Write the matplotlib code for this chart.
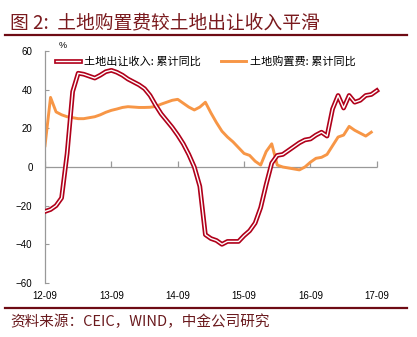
import numpy as np
import matplotlib.pyplot as plt
import matplotlib.patheffects as pe
from matplotlib.lines import Line2D

plt.rcParams['font.family'] = ['Noto Sans CJK SC', 'DejaVu Sans']

# monthly, 2012-09 .. 2017-09
tick_pos = [0, 12, 24, 36, 48, 60]
tick_labels = ['12-09', '13-09', '14-09', '15-09', '16-09', '17-09']

land_sale = [-23, -22, -20, -16, 7, 39, 48.5, 48, 47, 46, 47.5, 49.3, 50,
             49, 47.5, 45.5, 44, 42.5, 40.5, 37, 32, 27.5, 24, 20.5, 16.5,
             12, 6.5, 0, -10, -35, -37, -38, -40, -38.5, -38.5, -38.5,
             -35.5, -33, -29, -21, -9, 2, 6, 6.5, 8.5, 10.5, 12.5, 14,
             14.5, 16.5, 18, 16, 30, 37, 30.5, 37, 33.5, 34.5, 37, 37.5, 39.5]

land_purchase = [11, 36, 28.5, 27, 26, 25.5, 25, 25, 25.5, 26, 27, 28.3,
                 29.3, 30, 30.8, 31.2, 31, 30.8, 30.8, 30.9, 31.3, 32.5,
                 33.5, 34.5, 35, 33, 31, 29.5, 31, 33.5, 28, 23, 18.5, 15.5,
                 13, 10, 7, 6, 3, 1, 8, 12, 1, 0, -0.5, -1, -1.5, 0, 2.5,
                 4.5, 5, 6.5, 11, 15.5, 16.5, 21, 19, 17.5, 16, 18]

label_sale = '土地出让收入: 累计同比'
label_purchase = '土地购置费: 累计同比'

dark_red = '#6e0b14'

fig = plt.figure(figsize=(4.17, 3.37), dpi=100)
ax = fig.add_axes([45 / 417, 1 - 283 / 337, 61 * 5.53 / 417, 232 / 337])

x1 = np.arange(len(land_sale))
x2 = np.arange(len(land_purchase))

ax.plot(x1, land_sale, color='white', lw=1.0, label=label_sale,
        path_effects=[pe.Stroke(linewidth=3.4, foreground='#b0001a'), pe.Normal()],
        zorder=3)
ax.plot(x2, land_purchase, color='#f79646', lw=2.1, label=label_purchase, zorder=2)

# zero line with upward year ticks
ax.hlines(0, tick_pos[0], tick_pos[-1], color='#999999', lw=0.9, zorder=1)
ax.plot(tick_pos, [0] * len(tick_pos), ls='none', marker=2, ms=4,
        color='#999999', mew=0.9, zorder=1)

ax.set_xlim(0, 61)
ax.set_ylim(-60, 60)
ax.set_yticks(range(-60, 61, 20))
ax.set_xticks(tick_pos)
ax.set_xticklabels(tick_labels)

for s in ['top', 'right', 'bottom']:
    ax.spines[s].set_visible(False)
ax.spines['left'].set_color('#999999')
ax.spines['left'].set_linewidth(0.9)

ax.tick_params(axis='y', direction='in', length=3, color='#999999', pad=9,
               labelsize=7)
ax.tick_params(axis='x', length=0, pad=6, labelsize=7)
for t in ax.get_xticklabels() + ax.get_yticklabels():
    t.set_fontfamily('Liberation Sans')

ax.text(2.5, 60.5, '%', fontsize=6.5, ha='left', va='bottom',
        fontfamily='Liberation Sans')

ax.legend(loc='upper left', bbox_to_anchor=(50 / 417, 1 - 50 / 337),
          bbox_transform=fig.transFigure, ncol=2, frameon=False,
          fontsize=8, handlelength=2.2, columnspacing=1.8, borderpad=0,
          handletextpad=0.4)

# title and source
fig.text(10 / 417, 1 - 23 / 337, '图 2:  土地购置费较土地出让收入平滑',
         fontsize=13.5, color='#7a1a1e', ha='left', va='center')
fig.add_artist(Line2D([5 / 417, 407 / 417], [1 - 35 / 337] * 2,
                      color=dark_red, lw=1.6))
fig.add_artist(Line2D([5 / 417, 407 / 417], [1 - 308 / 337] * 2,
                      color=dark_red, lw=1.6))
fig.text(10 / 417, 1 - 322 / 337, '资料来源：CEIC，WIND，中金公司研究',
         fontsize=10.5, color='#6a1a1e', ha='left', va='center')

fig.savefig('out.png', dpi=100)
